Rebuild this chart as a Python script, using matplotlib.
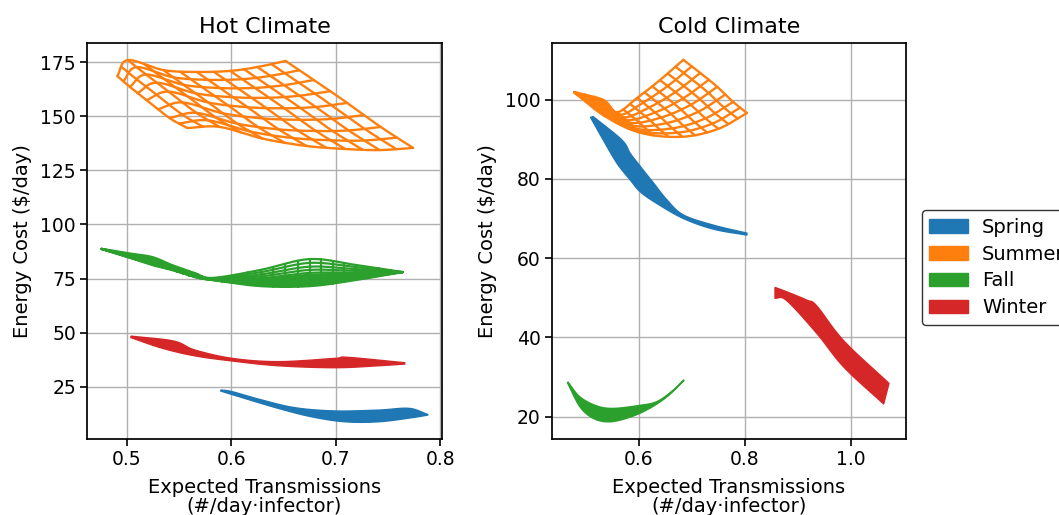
import numpy as np
import matplotlib
matplotlib.use("Agg")
import matplotlib.pyplot as plt
from matplotlib.patches import Patch

# ---------------- data ----------------
seasons = ["Spring", "Summer", "Fall", "Winter"]
colors = ["#1f77b4", "#ff7f0e", "#2ca02c", "#d62728"]

# Hot climate - Summer surface (edges of the mesh)
hot_summer_top_x = [0.491, 0.501, 0.535, 0.567, 0.599, 0.625, 0.652]
hot_summer_top_y = [168.6, 176.0, 171.4, 170.5, 171.0, 172.8, 175.6]
hot_summer_bottom_x = [0.558, 0.589, 0.630, 0.672, 0.709, 0.742, 0.774]
hot_summer_bottom_y = [144.6, 145.1, 139.7, 136.3, 134.9, 134.4, 135.4]
hot_summer_left_x = [0.558, 0.541, 0.519, 0.503, 0.491]
hot_summer_left_y = [144.6, 149.2, 157.5, 163.6, 168.6]
hot_summer_right_x = [0.774, 0.743, 0.711, 0.679, 0.652]
hot_summer_right_y = [135.4, 145.1, 156.2, 166.8, 175.6]

# Hot climate - Fall surface
hot_fall_x = [0.476, 0.500, 0.524, 0.543, 0.565, 0.582, 0.628, 0.675, 0.719, 0.764]
hot_fall_top_y = [88.7, 86.8, 85.0, 81.3, 77.6, 75.3, 79.0, 84.0, 81.3, 78.0]
hot_fall_bottom_y = [88.7, 85.0, 81.3, 79.0, 75.7, 74.3, 71.5, 71.5, 74.3, 78.0]

# Hot climate - Winter band
hot_winter_upper_x = [0.504, 0.545, 0.565, 0.601, 0.645, 0.699, 0.711, 0.766]
hot_winter_upper_y = [48.4, 46.1, 42.0, 38.1, 36.6, 38.1, 38.6, 36.1]
hot_winter_lower_x = [0.504, 0.534, 0.565, 0.601, 0.645, 0.699, 0.741, 0.766]
hot_winter_lower_y = [47.7, 42.8, 39.3, 36.9, 34.7, 33.8, 34.7, 35.5]

# Hot climate - Spring band
hot_spring_upper_x = [0.590, 0.601, 0.629, 0.661, 0.699, 0.741, 0.770, 0.788]
hot_spring_upper_y = [23.5, 22.7, 18.9, 15.3, 13.8, 14.2, 15.0, 12.2]
hot_spring_lower_x = [0.590, 0.613, 0.645, 0.677, 0.709, 0.741, 0.773, 0.788]
hot_spring_lower_y = [23.0, 19.6, 15.0, 11.1, 8.8, 8.8, 10.7, 11.9]

# Cold climate - Summer surface
cold_summer_top_x = [0.478, 0.533, 0.559, 0.597, 0.640, 0.684]
cold_summer_top_y = [101.9, 99.9, 96.8, 100.4, 104.9, 110.0]
cold_summer_bottom_x = [0.480, 0.536, 0.603, 0.682, 0.750, 0.804]
cold_summer_bottom_y = [101.6, 95.8, 91.6, 90.6, 92.6, 96.6]
cold_summer_left_x = [0.480, 0.478]
cold_summer_left_y = [101.6, 101.9]
cold_summer_right_x = [0.804, 0.778, 0.748, 0.716, 0.684]
cold_summer_right_y = [96.6, 99.4, 103.2, 106.7, 110.0]

# Cold climate - Spring band
cold_spring_a_x = [0.509, 0.533, 0.559, 0.584, 0.603, 0.634, 0.684, 0.741, 0.804]
cold_spring_a_y = [95.5, 89.8, 83.9, 79.7, 76.7, 73.8, 70.0, 67.3, 65.8]
cold_spring_b_x = [0.514, 0.568, 0.584, 0.603, 0.628, 0.653, 0.684, 0.741, 0.804]
cold_spring_b_y = [95.7, 89.8, 86.4, 83.1, 78.9, 74.7, 70.9, 68.3, 66.3]

# Cold climate - Winter band
cold_winter_upper_x = [0.857, 0.879, 0.917, 0.936, 0.987, 1.072]
cold_winter_upper_y = [52.6, 51.5, 49.4, 47.9, 39.1, 28.4]
cold_winter_lower_x = [0.857, 0.879, 0.936, 0.987, 1.062]
cold_winter_lower_y = [49.9, 49.3, 41.0, 32.5, 23.2]

# Cold climate - Fall band
cold_fall_upper_x = [0.466, 0.489, 0.521, 0.552, 0.599, 0.634, 0.665, 0.685]
cold_fall_upper_y = [28.8, 25.0, 22.7, 22.1, 22.8, 23.8, 26.7, 29.3]
cold_fall_lower_x = [0.466, 0.489, 0.514, 0.543, 0.577, 0.615, 0.653, 0.685]
cold_fall_lower_y = [28.4, 22.5, 19.6, 18.7, 19.6, 21.7, 25.0, 29.1]

hot_xticks = [0.5, 0.6, 0.7, 0.8]
hot_yticks = [25, 50, 75, 100, 125, 150, 175]
cold_xticks = [0.6, 0.8, 1.0]
cold_yticks = [20, 40, 60, 80, 100]


# ---------------- helpers ----------------
def curve(xs, ys, t):
    """Catmull-Rom curve through the points, parameter t in [0, 1]."""
    P = np.column_stack([xs, ys]).astype(float)
    n = len(P)
    t = np.asarray(t, dtype=float)
    shape = t.shape
    t = np.clip(t.ravel(), 0, 1)
    if n == 2:
        out = P[0][None, :] * (1 - t)[:, None] + P[1][None, :] * t[:, None]
        return out[:, 0].reshape(shape), out[:, 1].reshape(shape)
    Pe = np.vstack([2 * P[0] - P[1], P, 2 * P[-1] - P[-2]])
    s = t * (n - 1)
    i = np.minimum(np.floor(s).astype(int), n - 2)
    f = (s - i)[:, None]
    p0, p1, p2, p3 = Pe[i], Pe[i + 1], Pe[i + 2], Pe[i + 3]
    out = 0.5 * (2 * p1 + (-p0 + p2) * f + (2 * p0 - 5 * p1 + 4 * p2 - p3) * f ** 2
                 + (-p0 + 3 * p1 - 3 * p2 + p3) * f ** 3)
    return out[:, 0].reshape(shape), out[:, 1].reshape(shape)


def coons(B, T, L, R, U, V):
    Bx, By = curve(*B, U)
    Tx, Ty = curve(*T, U)
    Lx, Ly = curve(*L, V)
    Rx, Ry = curve(*R, V)
    b0 = (B[0][0], B[1][0]); b1 = (B[0][-1], B[1][-1])
    t0 = (T[0][0], T[1][0]); t1 = (T[0][-1], T[1][-1])
    X = ((1 - V) * Bx + V * Tx + (1 - U) * Lx + U * Rx
         - ((1 - U) * (1 - V) * b0[0] + U * (1 - V) * b1[0] + (1 - U) * V * t0[0] + U * V * t1[0]))
    Y = ((1 - V) * By + V * Ty + (1 - U) * Ly + U * Ry
         - ((1 - U) * (1 - V) * b0[1] + U * (1 - V) * b1[1] + (1 - U) * V * t0[1] + U * V * t1[1]))
    return X, Y


def wire(ax, B, T, L, R, us, vs, color, lw=1.7):
    fine = np.linspace(0, 1, 300)
    for v in vs:
        X, Y = coons(B, T, L, R, fine, np.full_like(fine, v))
        ax.plot(X, Y, color=color, lw=lw, solid_joinstyle="round", solid_capstyle="round", zorder=3)
    for u in us:
        X, Y = coons(B, T, L, R, np.full_like(fine, u), fine)
        ax.plot(X, Y, color=color, lw=lw, solid_joinstyle="round", solid_capstyle="round", zorder=3)


def band(ax, ux, uy, lx, ly, color):
    t = np.linspace(0, 1, 300)
    x1, y1 = curve(ux, uy, t)
    x2, y2 = curve(lx, ly, t)
    xs = np.concatenate([x1, x2[::-1]])
    ys = np.concatenate([y1, y2[::-1]])
    ax.fill(xs, ys, facecolor=color, edgecolor=color, lw=1.0, zorder=3)


# ---------------- figure ----------------
plt.rcParams["font.family"] = ["DejaVu Sans"]
fig = plt.figure(figsize=(10.59, 5.15), dpi=100)
ax1 = fig.add_axes([0.0822, 0.147, 0.3349, 0.7695])
ax2 = fig.add_axes([0.521, 0.147, 0.3346, 0.7695])

# Hot climate
band(ax1, hot_spring_upper_x, hot_spring_upper_y, hot_spring_lower_x, hot_spring_lower_y, colors[0])
band(ax1, hot_winter_upper_x, hot_winter_upper_y, hot_winter_lower_x, hot_winter_lower_y, colors[3])
wire(ax1,
     (hot_summer_bottom_x, hot_summer_bottom_y), (hot_summer_top_x, hot_summer_top_y),
     (hot_summer_left_x, hot_summer_left_y), (hot_summer_right_x, hot_summer_right_y),
     np.linspace(0, 1, 13), np.linspace(0, 1, 9), colors[1])
n_hf = len(hot_fall_x)
wire(ax1,
     (hot_fall_x, hot_fall_bottom_y), (hot_fall_x, hot_fall_top_y),
     ([hot_fall_x[0]] * 2, [hot_fall_top_y[0]] * 2), ([hot_fall_x[-1]] * 2, [hot_fall_top_y[-1]] * 2),
     np.linspace(0, 1, 4 * (n_hf - 1) + 1),
     [0, .06, .12, .18, .24, .30, .36, .42, .49, .6, .72, .86, 1.0], colors[2], lw=1.6)

# Cold climate
band(ax2, cold_spring_a_x, cold_spring_a_y, cold_spring_b_x, cold_spring_b_y, colors[0])
band(ax2, cold_winter_upper_x, cold_winter_upper_y, cold_winter_lower_x, cold_winter_lower_y, colors[3])
band(ax2, cold_fall_upper_x, cold_fall_upper_y, cold_fall_lower_x, cold_fall_lower_y, colors[2])
wire(ax2,
     (cold_summer_bottom_x, cold_summer_bottom_y), (cold_summer_top_x, cold_summer_top_y),
     (cold_summer_left_x, cold_summer_left_y), (cold_summer_right_x, cold_summer_right_y),
     np.linspace(0, 1, 16), np.linspace(0, 1, 9), colors[1])

for ax, title, xt, yt, xl, yl in [
        (ax1, "Hot Climate", hot_xticks, hot_yticks, (0.462, 0.8014), (0.7, 183.9)),
        (ax2, "Cold Climate", cold_xticks, cold_yticks, (0.4358, 1.1043), (14.3, 114.25))]:
    ax.set_xlim(*xl)
    ax.set_ylim(*yl)
    ax.set_xticks(xt)
    ax.set_yticks(yt)
    ax.grid(True, color="#b0b0b0", lw=1.0)
    ax.set_axisbelow(True)
    ax.set_title(title, fontsize=16, pad=7)
    ax.set_xlabel("Expected Transmissions\n(#/day\u00b7infector)", fontsize=14, linespacing=1.02,
                  labelpad=6)
    ax.set_ylabel("Energy Cost ($/day)", fontsize=14, labelpad=6)
    ax.tick_params(labelsize=13.5, length=5, width=1.2, pad=3)
    for sp in ax.spines.values():
        sp.set_linewidth(1.25)
        sp.set_color("black")

handles = [Patch(facecolor=c, edgecolor=c, label=s) for s, c in zip(seasons, colors)]
leg = fig.legend(handles=handles, loc="center left", bbox_to_anchor=(921.7 / 1059, 0.4806),
                 fontsize=14, frameon=True, fancybox=True, handlelength=2.0,
                 labelspacing=0.4, borderaxespad=0.0, handletextpad=0.7)
leg.get_frame().set_edgecolor("black")
leg.get_frame().set_linewidth(1.0)

fig.savefig("out.png", dpi=100)
